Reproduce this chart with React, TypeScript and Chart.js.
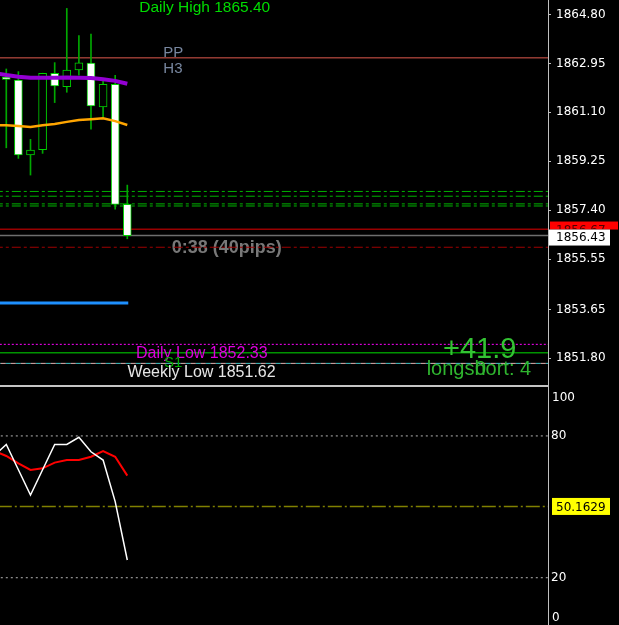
import React, { useEffect, useRef } from 'react';
import { Chart, registerables } from 'chart.js';

Chart.register(...registerables);

// ---------------- data ----------------
const BAR_X = [0, 1, 2, 3, 4, 5, 6, 7, 8, 9, 10];
const OPEN = [1862.43, 1862.32, 1859.49, 1859.69, 1862.58, 1862.07, 1862.70, 1862.96, 1861.31, 1862.16, 1857.62];
const HIGH = [1862.74, 1862.64, 1860.08, 1862.58, 1862.98, 1865.03, 1864.00, 1864.06, 1862.32, 1862.50, 1858.35];
const LOW = [1859.76, 1859.36, 1858.73, 1859.55, 1861.47, 1861.86, 1862.51, 1860.46, 1860.94, 1857.44, 1856.32];
const CLOSE = [1862.35, 1859.49, 1859.67, 1862.58, 1862.10, 1862.70, 1862.97, 1861.34, 1862.16, 1857.62, 1856.44];

const LINE_X = [-1, 0, 1, 2, 3, 4, 5, 6, 7, 8, 9, 10];
const MA_PURPLE = [1862.59, 1862.51, 1862.45, 1862.41, 1862.41, 1862.41, 1862.42, 1862.41, 1862.40, 1862.35, 1862.29, 1862.18];
const MA_ORANGE = [1860.62, 1860.61, 1860.58, 1860.55, 1860.61, 1860.66, 1860.74, 1860.81, 1860.84, 1860.88, 1860.77, 1860.62];

const STOCH_MAIN = [71.7, 76.4, 65.7, 55.0, 65.7, 76.4, 76.4, 79.4, 73.3, 69.8, 52.2, 27.5];
const STOCH_SIGNAL = [73.6, 71.5, 68.4, 65.6, 66.3, 68.7, 69.8, 69.8, 71.2, 73.6, 71.2, 63.2];

const PRICE_TICKS = [1864.8, 1862.95, 1861.1, 1859.25, 1857.4, 1855.55, 1853.65, 1851.8];
const OSC_TICKS = [80, 20];
const OSC_EDGE_TICKS = [100, 0];

// horizontal price levels (values) and their look (separate)
const LEVEL_PRICES = [1863.16, 1858.11, 1857.93, 1857.64, 1857.56, 1856.68, 1856.44, 1856.0, 1852.33, 1852.01, 1851.61, 1851.61];
const LEVEL_LOOK = [
  { color: '#e05a4e', width: 1, dash: [] as number[], offset: 0 },
  { color: '#00b400', width: 1, dash: [9, 3, 3, 3], offset: 0 },
  { color: '#00b400', width: 1, dash: [9, 3, 3, 3], offset: 0 },
  { color: '#00b400', width: 1, dash: [9, 3, 3, 3], offset: 0 },
  { color: '#00b400', width: 1, dash: [9, 3, 3, 3], offset: 0 },
  { color: '#990000', width: 1.5, dash: [], offset: 0 },
  { color: '#6e6e6e', width: 1.5, dash: [], offset: 0 },
  { color: '#a00000', width: 1, dash: [9, 3, 3, 3], offset: 0 },
  { color: '#ff00ff', width: 1, dash: [2, 2], offset: 0 },
  { color: '#009400', width: 1.5, dash: [], offset: 0 },
  { color: '#e0b0b0', width: 1, dash: [5, 5], offset: 5 },
  { color: '#40c8c8', width: 1, dash: [5, 5], offset: 0 },
];
const TREND_X = [-1, 10.08];
const TREND_Y = [1853.89, 1853.89];

const OSC_LEVELS = [80, 20, 50.1629];
const OSC_LEVEL_LOOK = [
  { color: '#b4b4b4', width: 1, dash: [2, 3] },
  { color: '#b4b4b4', width: 1, dash: [2, 3] },
  { color: '#808000', width: 1.5, dash: [14, 3, 2, 3] },
];

const PRICE_MARKS = [1856.67, 1856.43];
const OSC_MARK = 50.1629;

// view ranges
const X_MIN = -0.52;
const X_MAX = 44.77;
const P_MIN = 1850.717;
const P_MAX = 1865.348;
const O_MIN = 0;
const O_MAX = 100.7;

type Note = { text: string; x: number; y: number; color: string; font: string; under?: boolean };
const MAIN_NOTES: Note[] = [
  { text: 'Daily High 1865.40', x: 10.99, y: 1864.883, color: '#00dc00', font: '15.5px "Liberation Sans"' },
  { text: 'PP', x: 12.98, y: 1863.204, color: '#7887a0', font: '15px "Liberation Sans"' },
  { text: 'H3', x: 12.98, y: 1862.607, color: '#7887a0', font: '15px "Liberation Sans"' },
  { text: '0:38 (40pips)', x: 13.67, y: 1855.772, color: '#787878', font: 'bold 18px "Liberation Sans"', under: true },
  { text: 'Daily Low 1852.33', x: 10.72, y: 1851.802, color: '#dd00dd', font: '16px "Liberation Sans"' },
  { text: 'S1', x: 13.03, y: 1851.473, color: '#00b000', font: '15px "Liberation Sans"' },
  { text: 'Weekly Low 1851.62', x: 10.01, y: 1851.106, color: '#e6e6e6', font: '16px "Liberation Sans"' },
  { text: '+41.9', x: 36.09, y: 1851.813, color: '#33c433', font: '29px "Liberation Sans"' },
  { text: 'longshort: 4', x: 34.74, y: 1851.17, color: '#2fb52f', font: '20px "Liberation Sans"' },
  { text: '0', x: 38.73, y: 1851.17, color: '#2fb52f', font: '20px "Liberation Sans"' },
];

const AXIS_FONT = { family: 'DejaVu Sans', size: 12 };
const AXIS_FONT_CSS = '12px "DejaVu Sans"';

function drawNotes(chart: any, under: boolean) {
  const { ctx, scales } = chart;
  ctx.save();
  ctx.textAlign = 'left';
  ctx.textBaseline = 'alphabetic';
  for (const n of MAIN_NOTES) {
    if (!!n.under !== under) continue;
    ctx.font = n.font;
    ctx.fillStyle = n.color;
    ctx.fillText(n.text, scales.x.getPixelForValue(n.x), scales.y.getPixelForValue(n.y));
  }
  ctx.restore();
}

const mainPlugin = {
  id: 'mainDecor',
  beforeDatasetsDraw(chart: any) {
    drawNotes(chart, true);
  },
  afterDatasetsDraw(chart: any) {
    drawNotes(chart, false);
  },
  afterDraw(chart: any) {
    const { ctx, scales, chartArea } = chart;
    const ys = scales.y;
    ctx.save();
    // separator
    ctx.strokeStyle = '#c4c4c4';
    ctx.lineWidth = 2;
    ctx.beginPath();
    ctx.moveTo(0, chartArea.bottom - 1);
    ctx.lineTo(chartArea.right, chartArea.bottom - 1);
    ctx.stroke();
    // price markers
    ctx.font = AXIS_FONT_CSS;
    ctx.textBaseline = 'middle';
    ctx.textAlign = 'left';
    const redY = ys.getPixelForValue(PRICE_MARKS[0]);
    ctx.fillStyle = '#ff0000';
    ctx.fillRect(ys.left + 2, redY - 8, 68, 8);
    ctx.save();
    ctx.beginPath();
    ctx.rect(ys.left + 2, redY - 8, 68, 8);
    ctx.clip();
    ctx.fillStyle = '#500000';
    ctx.fillText(PRICE_MARKS[0].toFixed(2), ys.left + 8, redY + 1);
    ctx.restore();
    ctx.fillStyle = '#ffffff';
    ctx.fillRect(ys.left + 1, redY, 61, 16);
    ctx.fillStyle = '#000000';
    ctx.fillText(PRICE_MARKS[1].toFixed(2), ys.left + 8, redY + 8.5);
    ctx.restore();
  },
};

const oscPlugin = {
  id: 'oscDecor',
  afterDraw(chart: any) {
    const { ctx, scales } = chart;
    const ys = scales.y;
    ctx.save();
    ctx.font = AXIS_FONT_CSS;
    ctx.textBaseline = 'middle';
    ctx.textAlign = 'left';
    ctx.fillStyle = '#ffffff';
    ctx.fillText(String(OSC_EDGE_TICKS[0]), ys.left + 4, ys.getPixelForValue(OSC_EDGE_TICKS[0]) + 9.5);
    ctx.fillText(String(OSC_EDGE_TICKS[1]), ys.left + 4, ys.getPixelForValue(OSC_EDGE_TICKS[1]) - 7);
    const my = ys.getPixelForValue(OSC_MARK);
    ctx.fillStyle = '#ffff00';
    ctx.fillRect(ys.left + 4, my - 8.5, 58, 17);
    ctx.fillStyle = '#000000';
    ctx.fillText(OSC_MARK.toFixed(4), ys.left + 8, my + 1);
    ctx.restore();
  },
};

function fixAxis(scale: any) {
  scale.width = 71;
  scale.paddingTop = 0;
  scale.paddingBottom = 0;
}

export default function App() {
  const mainRef = useRef<HTMLCanvasElement>(null);
  const oscRef = useRef<HTMLCanvasElement>(null);

  useEffect(() => {
    document.body.style.margin = '0';
    document.body.style.background = '#000';

    const span = (y: number) => [{ x: X_MIN - 2, y }, { x: X_MAX + 2, y }];

    const levelSets = LEVEL_PRICES.map((p, i) => ({
      type: 'line' as const,
      data: span(p),
      borderColor: LEVEL_LOOK[i].color,
      borderWidth: LEVEL_LOOK[i].width,
      borderDash: LEVEL_LOOK[i].dash,
      borderDashOffset: LEVEL_LOOK[i].offset,
      pointRadius: 0,
      order: 10 + i,
    }));

    const main = new Chart(mainRef.current!, {
      type: 'bar',
      data: {
        datasets: [
          {
            type: 'line',
            data: LINE_X.map((x, i) => ({ x, y: MA_PURPLE[i] })),
            borderColor: '#9400d3',
            borderWidth: 4,
            pointRadius: 0,
            order: 0,
          },
          {
            type: 'line',
            data: LINE_X.map((x, i) => ({ x, y: MA_ORANGE[i] })),
            borderColor: '#ffa500',
            borderWidth: 2.5,
            pointRadius: 0,
            order: 1,
          },
          {
            type: 'bar',
            data: BAR_X.map((x, i) => ({ x, y: [OPEN[i], CLOSE[i]] })),
            backgroundColor: BAR_X.map((_, i) => (CLOSE[i] >= OPEN[i] ? '#000000' : '#ffffff')),
            borderColor: '#00d000',
            borderWidth: 1,
            borderSkipped: false,
            barThickness: 8,
            grouped: false,
            order: 2,
          } as any,
          {
            type: 'bar',
            data: BAR_X.map((x, i) => ({ x, y: [LOW[i], HIGH[i]] })),
            backgroundColor: '#00a800',
            borderWidth: 0,
            barThickness: 1,
            grouped: false,
            order: 3,
          } as any,
          {
            type: 'line',
            data: TREND_X.map((x, i) => ({ x, y: TREND_Y[i] })),
            borderColor: '#1e90ff',
            borderWidth: 3,
            pointRadius: 0,
            order: 4,
          },
          ...levelSets,
        ] as any,
      },
      options: {
        animation: false,
        responsive: false,
        devicePixelRatio: 1,
        events: [],
        layout: { padding: 0 },
        plugins: { legend: { display: false }, tooltip: { enabled: false }, title: { display: false } },
        scales: {
          x: { type: 'linear', min: X_MIN, max: X_MAX, display: false, offset: false },
          y: {
            type: 'linear',
            position: 'right',
            min: P_MIN,
            max: P_MAX,
            afterBuildTicks: (s: any) => {
              s.ticks = PRICE_TICKS.map((v) => ({ value: v }));
            },
            afterFit: fixAxis,
            ticks: {
              color: '#ffffff',
              font: AXIS_FONT,
              padding: 5,
              callback: (v: any) => Number(v).toFixed(2),
            },
            grid: { drawOnChartArea: false, drawTicks: true, tickLength: 3, color: '#c0c0c0' },
            border: { display: true, color: '#c0c0c0', width: 1 },
          },
        },
      } as any,
      plugins: [mainPlugin],
    });

    const oscLevelSets = OSC_LEVELS.map((v, i) => ({
      type: 'line' as const,
      data: span(v),
      borderColor: OSC_LEVEL_LOOK[i].color,
      borderWidth: OSC_LEVEL_LOOK[i].width,
      borderDash: OSC_LEVEL_LOOK[i].dash,
      pointRadius: 0,
      order: 5 + i,
    }));

    const osc = new Chart(oscRef.current!, {
      type: 'line',
      data: {
        datasets: [
          {
            data: LINE_X.map((x, i) => ({ x, y: STOCH_MAIN[i] })),
            borderColor: '#ffffff',
            borderWidth: 1.5,
            pointRadius: 0,
            order: 0,
          },
          {
            data: LINE_X.map((x, i) => ({ x, y: STOCH_SIGNAL[i] })),
            borderColor: '#ff0000',
            borderWidth: 2,
            pointRadius: 0,
            order: 1,
          },
          ...oscLevelSets,
        ] as any,
      },
      options: {
        animation: false,
        responsive: false,
        devicePixelRatio: 1,
        events: [],
        layout: { padding: 0 },
        plugins: { legend: { display: false }, tooltip: { enabled: false } },
        scales: {
          x: { type: 'linear', min: X_MIN, max: X_MAX, display: false },
          y: {
            type: 'linear',
            position: 'right',
            min: O_MIN,
            max: O_MAX,
            afterBuildTicks: (s: any) => {
              s.ticks = OSC_TICKS.map((v) => ({ value: v }));
            },
            afterFit: fixAxis,
            ticks: { color: '#ffffff', font: AXIS_FONT, padding: 3 },
            grid: { drawOnChartArea: false, drawTicks: false },
            border: { display: true, color: '#c0c0c0', width: 1 },
          },
        },
      } as any,
      plugins: [oscPlugin],
    });

    return () => {
      main.destroy();
      osc.destroy();
    };
  }, []);

  return (
    <div style={{ width: 619, height: 625, background: '#000', overflow: 'hidden' }}>
      <canvas ref={mainRef} width={619} height={387} style={{ display: 'block' }} />
      <canvas ref={oscRef} width={619} height={238} style={{ display: 'block' }} />
    </div>
  );
}
